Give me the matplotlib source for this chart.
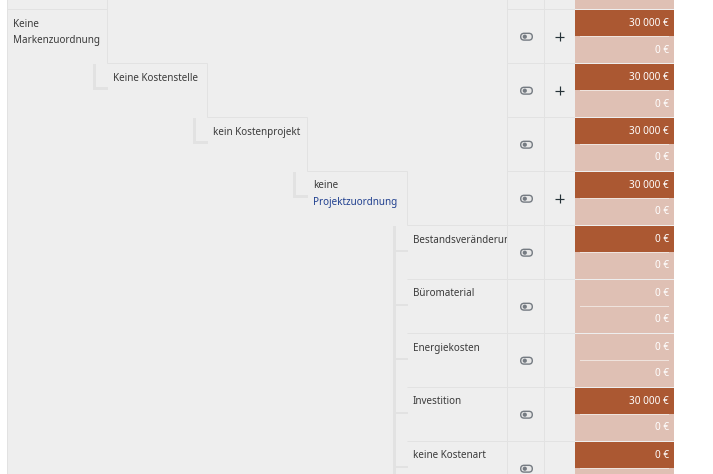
import matplotlib
matplotlib.use("Agg")
import matplotlib.pyplot as plt
from matplotlib.patches import FancyBboxPatch, Rectangle, Circle

plt.rcParams['font.family'] = ['Noto Sans', 'DejaVu Sans']

# table content, first row is only cut in at the top of the screenshot
row_labels = [[""], ["Keine", "Markenzuordnung"], ["Keine Kostenstelle"], ["kein Kostenprojekt"],
              ["keine", "Projektzuordnung"], ["Bestandsveränderung"], ["Büromaterial"],
              ["Energiekosten"], ["Investition"], ["keine Kostenart"]]
top_values = ["", "30 000 €", "30 000 €", "30 000 €", "30 000 €", "0 €", "0 €", "0 €", "30 000 €", "0 €"]
bottom_values = ["", "0 €", "0 €", "0 €", "0 €", "0 €", "0 €", "0 €", "0 €", ""]
top_dark = [False, True, True, True, True, True, False, False, True, True]
has_plus = [False, True, True, False, True, False, False, False, False, False]
label_x = [-87, 13, 113, 213, 313, 413, 413, 413, 413, 413]

PANEL = "#eeeeee"
LINE = "#e2e2e2"
TREE = "#e2e2e2"
DARK = "#ab5832"
LIGHT = "#dfc0b4"
TEXT = "#3a3a3a"
BLUE = "#1f3f8f"
ICON = "#757b82"
ROW_H = 54
PX = 0.72  # one pixel in points at dpi 100

fig = plt.figure(figsize=(7.13, 4.74), dpi=100)
ax = fig.add_axes([0, 0, 1, 1])
ax.set_xlim(0, 713)
ax.set_ylim(474, 0)
ax.axis("off")


def gridline(xs, ys, color=LINE, z=1):
    # no snapping, coordinates already sit on pixel centres
    ax.plot(xs, ys, color=color, lw=PX, zorder=z, solid_capstyle="butt", snap=False)


ax.add_patch(Rectangle((7.5, 0), 666.5, 474, fc=PANEL, ec="none", zorder=0))
gridline([7.5, 7.5], [0, 474])

# fixed vertical grid lines of the two icon columns
for gx in [507.5, 544.5]:
    gridline([gx, gx], [0, 474])

tops = [-44.5 + ROW_H * i for i in range(len(row_labels))]

# value cells
for i, t in enumerate(tops):
    ax.barh(t + 13.5, 99, height=26, left=575, color=DARK if top_dark[i] else LIGHT, zorder=2)
    ax.barh(t + 40, 99, height=27, left=575, color=LIGHT, zorder=2)
    gridline([580, 669], [t + 27, t + 27], "#efe3dd", 3)
    ax.text(669, t + 13.5, top_values[i], color="white", fontsize=7.2, ha="right", va="center", zorder=4)
    ax.text(669, t + 40.5, bottom_values[i], color="white", fontsize=7.2, ha="right", va="center", zorder=4)

# row lines and stepped tree borders
for i, t in enumerate(tops):
    if i == 0:
        continue
    gridline([507, 575], [t, t])
    x0 = label_x[i] - 6 + 0.5
    gridline([x0, min(x0 + 100, 507)], [t, t])
    if i == 1:
        gridline([x0 + 100, x0 + 100], [0, t + ROW_H])
    elif i <= 4:
        gridline([x0 + 100, x0 + 100], [t, t + ROW_H])
    # tree connectors
    if 2 <= i <= 4:
        ax.add_patch(Rectangle((x0 - 14.5, t), 3, 26, fc=TREE, ec="none", zorder=1))
        ax.add_patch(Rectangle((x0 - 14.5, t + 23.5), 15, 2.5, fc=TREE, ec="none", zorder=1))
    if i >= 5:
        ax.add_patch(Rectangle((x0 - 14.5, t + 24), 15, 2.5, fc=TREE, ec="none", zorder=1))

ax.add_patch(Rectangle((393, tops[5]), 3, 474 - tops[5], fc=TREE, ec="none", zorder=1))

# labels
clip = Rectangle((0, 0), 507, 474, transform=ax.transData)
for i, t in enumerate(tops):
    for j, s in enumerate(row_labels[i]):
        y = t + 14.5 + 16 * j
        col = BLUE if s == "Projektzuordnung" else TEXT
        txt = ax.text(label_x[i], y, s, color=col, fontsize=7.1, ha="left", va="center", zorder=4)
        txt.set_clip_on(True)
        txt.set_clip_path(clip)

# icons
for i, t in enumerate(tops):
    if i == 0:
        continue
    cy = t + 27.2
    ax.add_patch(FancyBboxPatch((520.7, cy - 3.4), 11.6, 6.8, boxstyle="round,pad=0,rounding_size=3.4",
                                fc="#e8e8e8", ec=ICON, lw=1.0, zorder=4))
    ax.add_patch(Circle((524.8, cy), 2.1, fc=ICON, ec="none", zorder=5))
    if has_plus[i]:
        ax.plot([555, 564], [cy, cy], color="#263238", lw=0.85, zorder=4, solid_capstyle="butt")
        ax.plot([559.5, 559.5], [cy - 4.5, cy + 4.5], color="#263238", lw=0.85, zorder=4, solid_capstyle="butt")

fig.savefig("out.png", dpi=100, facecolor="white")
